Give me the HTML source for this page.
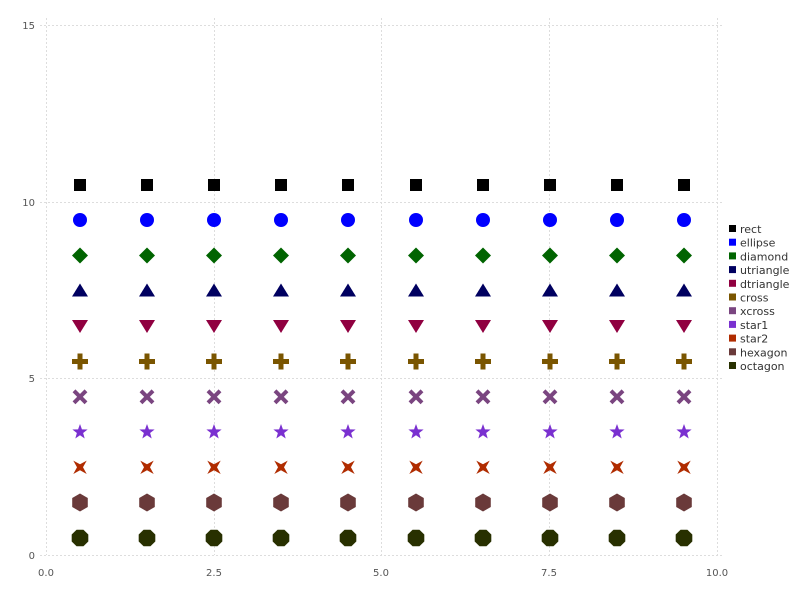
<!DOCTYPE html>
<html><head><meta charset="utf-8"><style>
html,body{margin:0;padding:0;background:#fff;}
text{font-family:"DejaVu Sans","Liberation Sans",sans-serif;font-size:10px;fill:#555;}
.lg text{fill:#333;font-size:11px;}
</style></head><body>
<svg width="800" height="600" xmlns="http://www.w3.org/2000/svg" xmlns:xlink="http://www.w3.org/1999/xlink">
<defs>
<rect id="m0" x="-6" y="-6" width="12" height="12"/>
<circle id="m1" r="7"/>
<polygon id="m2" points="0,-8 8,0 0,8 -8,0"/>
<polygon id="m3" points="0,-7 8,6 -8,6"/>
<polygon id="m4" points="0,7 8,-6 -8,-6"/>
<path id="m5" d="M-2.5,-8h5v5.5h5.5v5h-5.5v5.5h-5v-5.5h-5.5v-5h5.5z"/>
<path id="m6" d="M-6,-6L6,6M6,-6L-6,6" stroke-width="4" fill="none"/>
<polygon id="m7" points="0,-8 1.94,-2.67 7.61,-2.47 3.14,1.02 4.7,6.47 0,3.3 -4.7,6.47 -3.14,1.02 -7.61,-2.47 -1.94,-2.67"/>
<polygon id="m8" points="6.7,-6.7 3,0 6.7,6.7 0,3 -6.7,6.7 -3,0 -6.7,-6.7 0,-3"/>
<polygon id="m9" points="0,-9 7.79,-4.5 7.79,4.5 0,9 -7.79,4.5 -7.79,-4.5"/>
<polygon id="m10" points="8.31,3.44 3.44,8.31 -3.44,8.31 -8.31,3.44 -8.31,-3.44 -3.44,-8.31 3.44,-8.31 8.31,-3.44"/>
</defs>
<g stroke="#ddd" stroke-dasharray="2,2" stroke-width="1">
<line x1="46.5" y1="18" x2="46.5" y2="555"/>
<line x1="214.5" y1="18" x2="214.5" y2="555"/>
<line x1="381.5" y1="18" x2="381.5" y2="555"/>
<line x1="549.5" y1="18" x2="549.5" y2="555"/>
<line x1="717.5" y1="18" x2="717.5" y2="555"/>
<line x1="40" y1="25.5" x2="722" y2="25.5"/>
<line x1="40" y1="202.5" x2="722" y2="202.5"/>
<line x1="40" y1="378.5" x2="722" y2="378.5"/>
<line x1="40" y1="555.5" x2="722" y2="555.5"/>
</g>
<g text-anchor="end">
<text x="35" y="29">15</text><text x="35" y="206">10</text><text x="35" y="382">5</text><text x="35" y="559">0</text>
</g>
<g text-anchor="middle">
<text x="46" y="576">0.0</text><text x="214" y="576">2.5</text><text x="381" y="576">5.0</text><text x="549" y="576">7.5</text><text x="717" y="576">10.0</text>
</g>

<g fill="#000000" transform="translate(0,185)"><use xlink:href="#m0" x="80"/><use xlink:href="#m0" x="147"/><use xlink:href="#m0" x="214"/><use xlink:href="#m0" x="281"/><use xlink:href="#m0" x="348"/><use xlink:href="#m0" x="416"/><use xlink:href="#m0" x="483"/><use xlink:href="#m0" x="550"/><use xlink:href="#m0" x="617"/><use xlink:href="#m0" x="684"/></g>
<g fill="#0000ff" transform="translate(0,220)"><use xlink:href="#m1" x="80"/><use xlink:href="#m1" x="147"/><use xlink:href="#m1" x="214"/><use xlink:href="#m1" x="281"/><use xlink:href="#m1" x="348"/><use xlink:href="#m1" x="416"/><use xlink:href="#m1" x="483"/><use xlink:href="#m1" x="550"/><use xlink:href="#m1" x="617"/><use xlink:href="#m1" x="684"/></g>
<g fill="#006400" transform="translate(0,255.5)"><use xlink:href="#m2" x="80"/><use xlink:href="#m2" x="147"/><use xlink:href="#m2" x="214"/><use xlink:href="#m2" x="281"/><use xlink:href="#m2" x="348"/><use xlink:href="#m2" x="416"/><use xlink:href="#m2" x="483"/><use xlink:href="#m2" x="550"/><use xlink:href="#m2" x="617"/><use xlink:href="#m2" x="684"/></g>
<g fill="#000060" transform="translate(0,290.5)"><use xlink:href="#m3" x="80"/><use xlink:href="#m3" x="147"/><use xlink:href="#m3" x="214"/><use xlink:href="#m3" x="281"/><use xlink:href="#m3" x="348"/><use xlink:href="#m3" x="416"/><use xlink:href="#m3" x="483"/><use xlink:href="#m3" x="550"/><use xlink:href="#m3" x="617"/><use xlink:href="#m3" x="684"/></g>
<g fill="#900040" transform="translate(0,326)"><use xlink:href="#m4" x="80"/><use xlink:href="#m4" x="147"/><use xlink:href="#m4" x="214"/><use xlink:href="#m4" x="281"/><use xlink:href="#m4" x="348"/><use xlink:href="#m4" x="416"/><use xlink:href="#m4" x="483"/><use xlink:href="#m4" x="550"/><use xlink:href="#m4" x="617"/><use xlink:href="#m4" x="684"/></g>
<g fill="#7a5500" transform="translate(0,361.5)"><use xlink:href="#m5" x="80"/><use xlink:href="#m5" x="147"/><use xlink:href="#m5" x="214"/><use xlink:href="#m5" x="281"/><use xlink:href="#m5" x="348"/><use xlink:href="#m5" x="416"/><use xlink:href="#m5" x="483"/><use xlink:href="#m5" x="550"/><use xlink:href="#m5" x="617"/><use xlink:href="#m5" x="684"/></g>
<g stroke="#7a4580" fill="none" transform="translate(0,396.8)"><use xlink:href="#m6" x="80"/><use xlink:href="#m6" x="147"/><use xlink:href="#m6" x="214"/><use xlink:href="#m6" x="281"/><use xlink:href="#m6" x="348"/><use xlink:href="#m6" x="416"/><use xlink:href="#m6" x="483"/><use xlink:href="#m6" x="550"/><use xlink:href="#m6" x="617"/><use xlink:href="#m6" x="684"/></g>
<g fill="#7a30d0" transform="translate(0,432)"><use xlink:href="#m7" x="80"/><use xlink:href="#m7" x="147"/><use xlink:href="#m7" x="214"/><use xlink:href="#m7" x="281"/><use xlink:href="#m7" x="348"/><use xlink:href="#m7" x="416"/><use xlink:href="#m7" x="483"/><use xlink:href="#m7" x="550"/><use xlink:href="#m7" x="617"/><use xlink:href="#m7" x="684"/></g>
<g fill="#b02c00" transform="translate(0,467.3)"><use xlink:href="#m8" x="80"/><use xlink:href="#m8" x="147"/><use xlink:href="#m8" x="214"/><use xlink:href="#m8" x="281"/><use xlink:href="#m8" x="348"/><use xlink:href="#m8" x="416"/><use xlink:href="#m8" x="483"/><use xlink:href="#m8" x="550"/><use xlink:href="#m8" x="617"/><use xlink:href="#m8" x="684"/></g>
<g fill="#6a3a3a" transform="translate(0,502.5)"><use xlink:href="#m9" x="80"/><use xlink:href="#m9" x="147"/><use xlink:href="#m9" x="214"/><use xlink:href="#m9" x="281"/><use xlink:href="#m9" x="348"/><use xlink:href="#m9" x="416"/><use xlink:href="#m9" x="483"/><use xlink:href="#m9" x="550"/><use xlink:href="#m9" x="617"/><use xlink:href="#m9" x="684"/></g>
<g fill="#283000" transform="translate(0,538)"><use xlink:href="#m10" x="80"/><use xlink:href="#m10" x="147"/><use xlink:href="#m10" x="214"/><use xlink:href="#m10" x="281"/><use xlink:href="#m10" x="348"/><use xlink:href="#m10" x="416"/><use xlink:href="#m10" x="483"/><use xlink:href="#m10" x="550"/><use xlink:href="#m10" x="617"/><use xlink:href="#m10" x="684"/></g>

<g class="lg">
<rect x="729" y="225" width="7" height="7" fill="#000000"/><text x="740" y="233">rect</text>
<rect x="729" y="238.7" width="7" height="7" fill="#0000ff"/><text x="740" y="246.7">ellipse</text>
<rect x="729" y="252.4" width="7" height="7" fill="#006400"/><text x="740" y="260.4">diamond</text>
<rect x="729" y="266.1" width="7" height="7" fill="#000060"/><text x="740" y="274.1">utriangle</text>
<rect x="729" y="279.8" width="7" height="7" fill="#900040"/><text x="740" y="287.8">dtriangle</text>
<rect x="729" y="293.5" width="7" height="7" fill="#7a5500"/><text x="740" y="301.5">cross</text>
<rect x="729" y="307.2" width="7" height="7" fill="#7a4580"/><text x="740" y="315.2">xcross</text>
<rect x="729" y="320.9" width="7" height="7" fill="#7a30d0"/><text x="740" y="328.9">star1</text>
<rect x="729" y="334.6" width="7" height="7" fill="#b02c00"/><text x="740" y="342.6">star2</text>
<rect x="729" y="348.3" width="7" height="7" fill="#6a3a3a"/><text x="740" y="356.3">hexagon</text>
<rect x="729" y="362" width="7" height="7" fill="#283000"/><text x="740" y="370">octagon</text>
</g>
</svg>
</body></html>
